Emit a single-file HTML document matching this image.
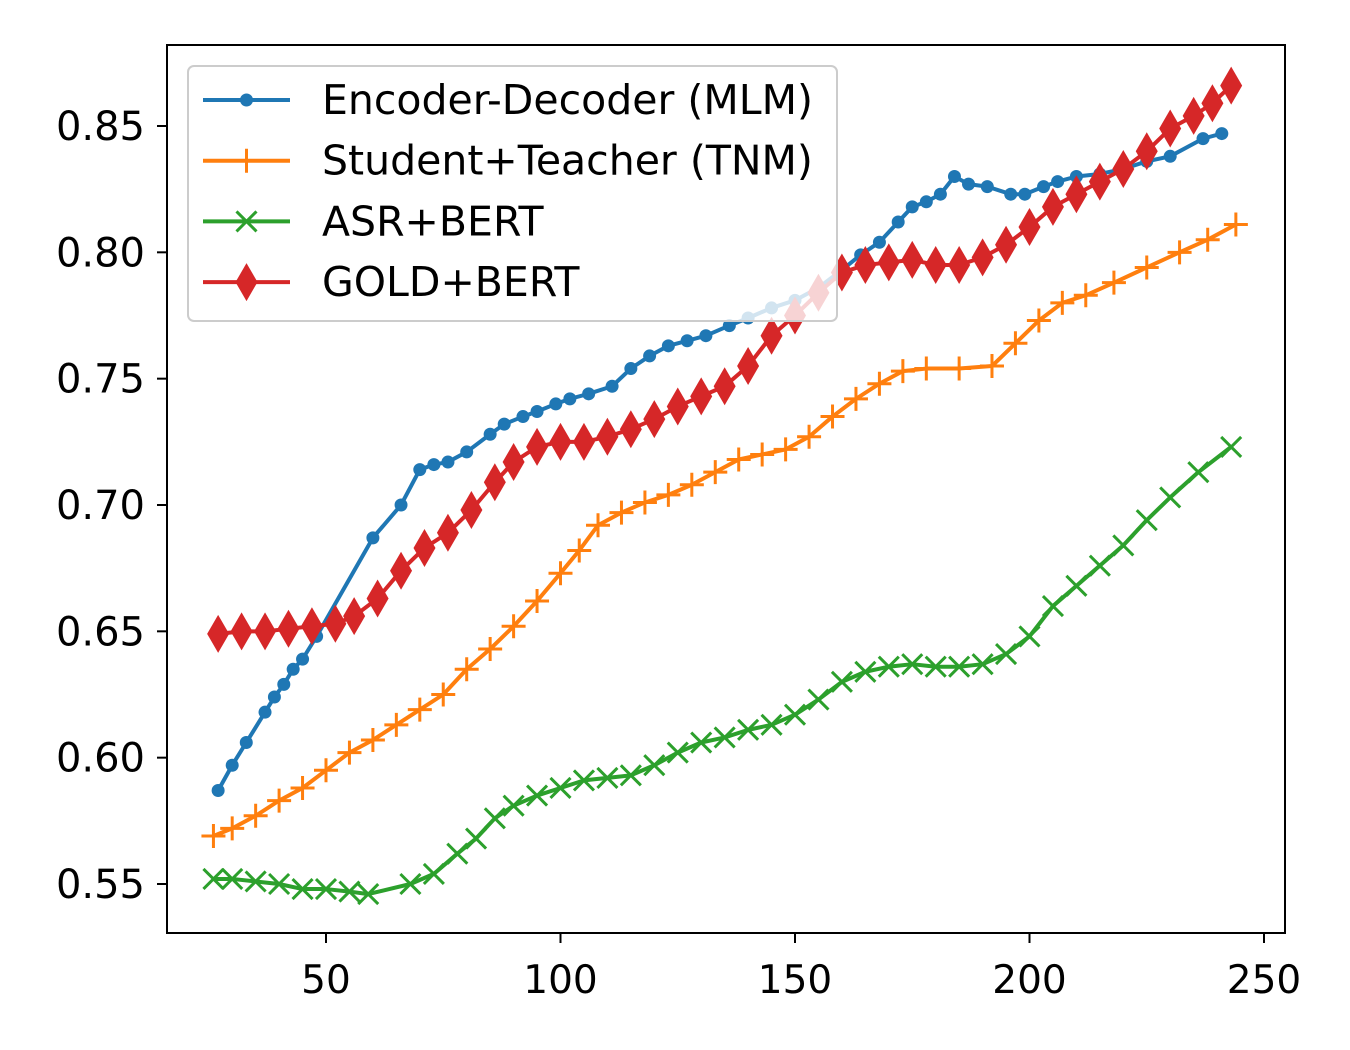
<!DOCTYPE html>
<html><head><meta charset="utf-8"><style>
html,body{margin:0;padding:0;background:#fff;}
svg{display:block;font-family:"DejaVu Sans","Liberation Sans",sans-serif;}
</style></head><body>
<svg id="chart" width="1350" height="1050" xmlns="http://www.w3.org/2000/svg"></svg>
<script>
const xTicks=[50,100,150,200,250];
const yTicks=[0.55,0.60,0.65,0.70,0.75,0.80,0.85];
const seriesNames=["Encoder-Decoder (MLM)","Student+Teacher (TNM)","ASR+BERT","GOLD+BERT"];
const mlmX=[27,30,33,37,39,41,43,45,48,60,66,70,73,76,80,85,88,92,95,99,102,106,111,115,119,123,127,131,136,140,145,150,155,160,164,168,172,175,178,181,184,187,191,196,199,203,206,210,215,220,225,230,237,241];
const mlmY=[0.587,0.597,0.606,0.618,0.624,0.629,0.635,0.639,0.648,0.687,0.700,0.714,0.716,0.717,0.721,0.728,0.732,0.735,0.737,0.740,0.742,0.744,0.747,0.754,0.759,0.763,0.765,0.767,0.771,0.774,0.778,0.781,0.786,0.793,0.799,0.804,0.812,0.818,0.820,0.823,0.830,0.827,0.826,0.823,0.823,0.826,0.828,0.830,0.831,0.833,0.836,0.838,0.845,0.847];
const tnmX=[26,30,35,40,45,50,55,60,65,70,75,80,85,90,95,100,104,108,113,118,123,128,133,138,143,148,153,158,163,168,173,178,185,192,197,202,207,212,218,225,232,238,244];
const tnmY=[0.569,0.572,0.577,0.583,0.588,0.595,0.602,0.607,0.613,0.619,0.625,0.635,0.643,0.652,0.662,0.673,0.682,0.692,0.697,0.701,0.704,0.708,0.713,0.718,0.720,0.722,0.727,0.735,0.742,0.748,0.753,0.754,0.754,0.755,0.764,0.773,0.780,0.783,0.788,0.794,0.800,0.805,0.811];
const asrX=[26,30,35,40,45,50,55,59,68,73,78,82,86,90,95,100,105,110,115,120,125,130,135,140,145,150,155,160,165,170,175,180,185,190,195,200,205,210,215,220,225,230,236,243];
const asrY=[0.552,0.552,0.551,0.550,0.548,0.548,0.547,0.546,0.550,0.554,0.562,0.568,0.576,0.581,0.585,0.588,0.591,0.592,0.593,0.597,0.602,0.606,0.608,0.611,0.613,0.617,0.623,0.630,0.634,0.636,0.637,0.636,0.636,0.637,0.641,0.648,0.660,0.668,0.676,0.684,0.694,0.703,0.713,0.723];
const goldX=[27,32,37,42,47,52,56,61,66,71,76,81,86,90,95,100,105,110,115,120,125,130,135,140,145,150,155,160,165,170,175,180,185,190,195,200,205,210,215,220,225,230,235,239,243];
const goldY=[0.649,0.650,0.650,0.651,0.652,0.653,0.656,0.663,0.674,0.683,0.689,0.698,0.709,0.717,0.723,0.725,0.725,0.727,0.730,0.734,0.739,0.743,0.747,0.755,0.767,0.775,0.784,0.792,0.795,0.796,0.797,0.795,0.795,0.798,0.803,0.810,0.818,0.823,0.828,0.833,0.840,0.849,0.854,0.859,0.866];

const NS="http://www.w3.org/2000/svg";
const svg=document.getElementById('chart');
const L=167,R=1285,T=45,B=933;
function sx(v){return 326+(v-50)*4.69;}
function sy(v){return 884-(v-0.55)*2526.7;}
function mk(tag,attrs,parent){const e=document.createElementNS(NS,tag);for(const k in attrs)e.setAttribute(k,attrs[k]);(parent||svg).appendChild(e);return e;}

const axes=mk('g',{});


xTicks.forEach(t=>{
  const x=sx(t);
  const tk=mk('line',{x1:x,x2:x,y1:B,y2:B+10,stroke:'#000','stroke-width':2},axes);
  
  
  const tx=mk('text',{x:x,y:B+60,'text-anchor':'middle','font-size':39},axes);
  tx.textContent=t;
  
  
});
yTicks.forEach(t=>{
  const y=sy(t);
  const tk=mk('line',{x1:L-10,x2:L,y1:y,y2:y,stroke:'#000','stroke-width':2},axes);
  
  
  const tx=mk('text',{x:L-22,y:y+14,'text-anchor':'end','font-size':40},axes);
  tx.textContent=t.toFixed(2);
  
  
});

const colors=['#1f77b4','#ff7f0e','#2ca02c','#d62728'];
function marker(type,x,y,c,g){
  let e;
  if(type==='dot')e=mk('circle',{cx:x,cy:y,r:6.5,fill:c},g);
  else if(type==='plus')e=mk('path',{d:`M${x-12} ${y}H${x+12}M${x} ${y-12}V${y+12}`,stroke:c,'stroke-width':3,fill:'none'},g);
  else if(type==='x')e=mk('path',{d:`M${x-10} ${y-10}L${x+10} ${y+10}M${x-10} ${y+10}L${x+10} ${y-10}`,stroke:c,'stroke-width':3,fill:'none'},g);
  else e=mk('path',{d:`M${x} ${y-19}L${x+11} ${y}L${x} ${y+19}L${x-11} ${y}Z`,fill:c},g);
  
  
}
const all=[[mlmX,mlmY,'dot'],[tnmX,tnmY,'plus'],[asrX,asrY,'x'],[goldX,goldY,'diamond']];
const names=['series-mlm','series-tnm','series-asr-bert','series-gold-bert'];
all.forEach((s,i)=>{
  const g=mk('g',{});
  
  
  const pts=s[0].map((x,j)=>sx(x)+','+sy(s[1][j])).join(' ');
  mk('polyline',{points:pts,fill:'none',stroke:colors[i],'stroke-width':4,'stroke-linejoin':'round'},g);
  s[0].forEach((x,j)=>marker(s[2],sx(x),sy(s[1][j]),colors[i],g));
});

const frame=mk('rect',{x:L,y:T,width:R-L,height:B-T,fill:'none',stroke:'#000','stroke-width':2});



const lg=mk('g',{});


mk('rect',{x:188,y:66,width:649,height:255,rx:6,fill:'#fff','fill-opacity':0.8,stroke:'#ccc','stroke-width':2},lg);
const types=['dot','plus','x','diamond'];
seriesNames.forEach((n,i)=>{
  const y=100+i*60.7;
  const e=mk('g',{},lg);
  
  
  mk('line',{x1:203,x2:290,y1:y,y2:y,stroke:colors[i],'stroke-width':4},e);
  marker(types[i],246.5,y,colors[i],e);
  const t=mk('text',{x:322,y:y+14,'font-size':41},e);
  t.textContent=n;
});
</script>
</body></html>
